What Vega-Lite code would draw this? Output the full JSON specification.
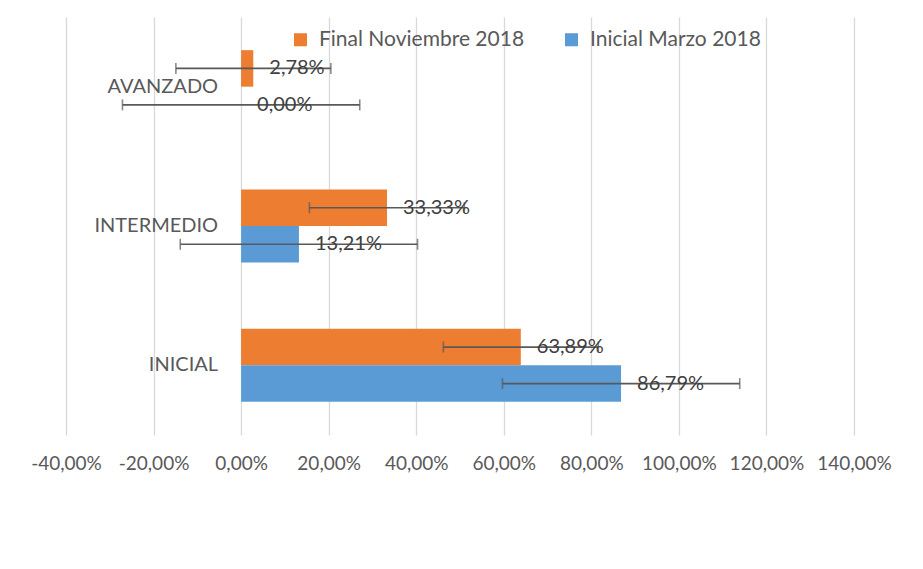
{
  "$schema": "https://vega.github.io/schema/vega-lite/v6.json",
  "width": 788,
  "height": 418,
  "autosize": {"type": "none"},
  "padding": {"left": 66, "top": 17, "right": 69, "bottom": 134},
  "background": "white",
  "config": {
    "locale": {"number": {"decimal": ",", "thousands": ".", "grouping": [3], "currency": ["", " €"], "minus": "-"}},
    "font": "Lato",
    "view": {"stroke": null}
  },
  "data": {
    "values": [
      {"nivel": "AVANZADO", "serie": "Final Noviembre 2018", "valor": 0.0278, "bajo": -0.149, "alto": 0.205},
      {"nivel": "AVANZADO", "serie": "Inicial Marzo 2018", "valor": 0.0, "bajo": -0.271, "alto": 0.271},
      {"nivel": "INTERMEDIO", "serie": "Final Noviembre 2018", "valor": 0.3333, "bajo": 0.156, "alto": 0.510},
      {"nivel": "INTERMEDIO", "serie": "Inicial Marzo 2018", "valor": 0.1321, "bajo": -0.139, "alto": 0.403},
      {"nivel": "INICIAL", "serie": "Final Noviembre 2018", "valor": 0.6389, "bajo": 0.462, "alto": 0.816},
      {"nivel": "INICIAL", "serie": "Inicial Marzo 2018", "valor": 0.8679, "bajo": 0.597, "alto": 1.139}
    ]
  },
  "encoding": {
    "y": {
      "field": "nivel",
      "type": "nominal",
      "sort": ["AVANZADO", "INTERMEDIO", "INICIAL"],
      "scale": {"paddingInner": 0.476, "paddingOuter": 0.238},
      "axis": null
    }
  },
  "layer": [
    {
      "mark": {"type": "bar"},
      "encoding": {
        "yOffset": {"field": "serie", "sort": ["Final Noviembre 2018", "Inicial Marzo 2018"]},
        "x": {
          "field": "valor",
          "type": "quantitative",
          "scale": {"domain": [-0.4, 1.4], "nice": false, "zero": false},
          "axis": {
            "title": null,
            "format": ".2%",
            "values": [-0.4, -0.2, 0, 0.2, 0.4, 0.6, 0.8, 1.0, 1.2, 1.4],
            "grid": true,
            "gridColor": "#D9D9D9",
            "gridWidth": 1.3,
            "domain": false,
            "ticks": false,
            "labelFontSize": 19,
            "labelColor": "#595959",
            "labelPadding": 19,
            "labelFlush": false,
            "labelOverlap": false
          }
        },
        "color": {
          "field": "serie",
          "type": "nominal",
          "scale": {"domain": ["Final Noviembre 2018", "Inicial Marzo 2018"], "range": ["#ED7D31", "#5B9BD5"]},
          "legend": {
            "orient": "none",
            "legendX": 224,
            "legendY": 12,
            "direction": "horizontal",
            "title": null,
            "symbolType": "square",
            "symbolSize": 170,
            "symbolStrokeWidth": 0,
            "labelFontSize": 21,
            "labelLimit": 0,
            "labelColor": "#595959",
            "labelOffset": 8,
            "columnPadding": 36
          }
        }
      }
    },
    {
      "mark": {"type": "rule", "color": "#595959", "strokeWidth": 1.6},
      "encoding": {
        "yOffset": {"field": "serie", "sort": ["Final Noviembre 2018", "Inicial Marzo 2018"]},
        "x": {"field": "bajo", "type": "quantitative"},
        "x2": {"field": "alto"}
      }
    },
    {
      "mark": {"type": "tick", "color": "#595959", "thickness": 1.6, "size": 11},
      "encoding": {
        "yOffset": {"field": "serie", "sort": ["Final Noviembre 2018", "Inicial Marzo 2018"]},
        "x": {"field": "bajo", "type": "quantitative"}
      }
    },
    {
      "mark": {"type": "tick", "color": "#595959", "thickness": 1.6, "size": 11},
      "encoding": {
        "yOffset": {"field": "serie", "sort": ["Final Noviembre 2018", "Inicial Marzo 2018"]},
        "x": {"field": "alto", "type": "quantitative"}
      }
    },
    {
      "mark": {"type": "text", "align": "left", "baseline": "middle", "dx": 16, "fontSize": 20, "color": "#404040"},
      "encoding": {
        "yOffset": {"field": "serie", "sort": ["Final Noviembre 2018", "Inicial Marzo 2018"]},
        "x": {"field": "valor", "type": "quantitative"},
        "text": {"field": "valor", "type": "quantitative", "format": ".2%"}
      }
    },
    {
      "transform": [{"filter": "datum.serie == 'Final Noviembre 2018'"}],
      "mark": {"type": "text", "align": "right", "baseline": "middle", "dx": -23, "fontSize": 20, "color": "#595959"},
      "encoding": {
        "x": {"datum": 0},
        "text": {"field": "nivel", "type": "nominal"}
      }
    }
  ]
}
